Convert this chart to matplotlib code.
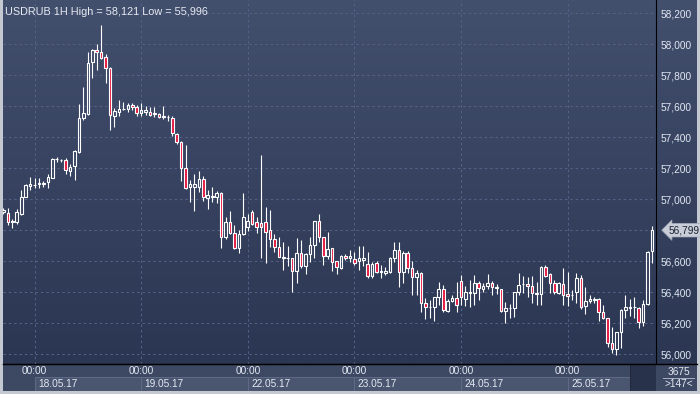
import numpy as np
import matplotlib.pyplot as plt
from matplotlib.patches import Rectangle
from matplotlib.lines import Line2D
from matplotlib.transforms import blended_transform_factory

plt.rcParams['font.family'] = ['Liberation Sans', 'DejaVu Sans']

symbol = 'USDRUB'
timeframe = '1H'
scroll_label = '3675'

# hourly candles
opens = [56.918, 56.908, 56.850, 56.849, 56.903, 57.015, 57.086, 57.090, 57.100, 57.098,
         57.107, 57.138, 57.255, 57.250, 57.252, 57.183, 57.215, 57.305, 57.520, 57.548,
         57.882, 57.961, 57.946, 57.918, 57.843, 57.535, 57.563, 57.578, 57.580, 57.606,
         57.591, 57.557, 57.563, 57.561, 57.550, 57.548, 57.531, 57.528, 57.520, 57.419,
         57.370, 57.198, 57.075, 57.080, 57.079, 57.127, 57.004, 57.013, 57.011, 57.036,
         56.753, 56.854, 56.779, 56.682, 56.772, 56.818, 56.919, 56.850, 56.843, 56.850,
         56.800, 56.740, 56.689, 56.620, 56.618, 56.618, 56.538, 56.650, 56.570, 56.643,
         56.701, 56.858, 56.753, 56.633, 56.682, 56.600, 56.557, 56.632, 56.617, 56.611,
         56.602, 56.608, 56.581, 56.505, 56.589, 56.527, 56.520, 56.531, 56.617, 56.671,
         56.527, 56.654, 56.557, 56.499, 56.520, 56.327, 56.301, 56.301, 56.366, 56.417,
         56.279, 56.339, 56.359, 56.470, 56.354, 56.395, 56.395, 56.455, 56.421, 56.440,
         56.460, 56.428, 56.417, 56.279, 56.296, 56.298, 56.402, 56.449, 56.451, 56.438,
         56.389, 56.387, 56.563, 56.516, 56.461, 56.396, 56.452, 56.388, 56.378, 56.403,
         56.489, 56.310, 56.342, 56.349, 56.355, 56.269, 56.231, 56.074, 56.031, 56.140,
         56.284, 56.300, 56.301, 56.299, 56.207, 56.321, 56.667]
highs = [56.944, 56.944, 56.871, 56.935, 57.058, 57.095, 57.140, 57.133, 57.133, 57.118,
         57.159, 57.267, 57.273, 57.258, 57.267, 57.224, 57.316, 57.611, 57.725, 57.946,
         57.965, 58.000, 58.121, 57.933, 57.854, 57.585, 57.638, 57.628, 57.617, 57.617,
         57.606, 57.617, 57.600, 57.591, 57.591, 57.557, 57.600, 57.542, 57.535, 57.423,
         57.372, 57.348, 57.122, 57.161, 57.180, 57.148, 57.058, 57.075, 57.052, 57.047,
         56.882, 56.925, 56.833, 56.800, 57.041, 56.904, 56.930, 56.882, 57.284, 56.947,
         56.930, 56.775, 56.753, 56.725, 56.697, 56.620, 56.747, 56.736, 56.650, 56.753,
         56.858, 56.904, 56.755, 56.790, 56.684, 56.602, 56.639, 56.643, 56.671, 56.660,
         56.697, 56.697, 56.660, 56.596, 56.600, 56.574, 56.559, 56.628, 56.725, 56.725,
         56.664, 56.664, 56.600, 56.542, 56.531, 56.359, 56.348, 56.370, 56.467, 56.445,
         56.352, 56.380, 56.466, 56.509, 56.438, 56.477, 56.509, 56.473, 56.455, 56.514,
         56.473, 56.449, 56.419, 56.337, 56.320, 56.402, 56.520, 56.503, 56.498, 56.503,
         56.466, 56.567, 56.574, 56.520, 56.478, 56.467, 56.553, 56.532, 56.413, 56.525,
         56.510, 56.435, 56.381, 56.370, 56.360, 56.317, 56.233, 56.173, 56.143, 56.289,
         56.381, 56.353, 56.366, 56.302, 56.349, 56.667, 56.826]
lows = [56.905, 56.832, 56.811, 56.837, 56.897, 57.011, 57.058, 57.069, 57.069, 57.080,
        57.073, 57.133, 57.237, 57.241, 57.159, 57.150, 57.123, 57.295, 57.510, 57.545,
        57.778, 57.832, 57.901, 57.746, 57.445, 57.466, 57.535, 57.574, 57.563, 57.574,
        57.535, 57.535, 57.542, 57.535, 57.531, 57.522, 57.514, 57.505, 57.406, 57.355,
        57.118, 57.062, 56.983, 56.925, 57.047, 56.989, 56.933, 56.983, 56.972, 56.682,
        56.740, 56.775, 56.680, 56.650, 56.768, 56.796, 56.833, 56.779, 56.618, 56.590,
        56.693, 56.661, 56.626, 56.542, 56.568, 56.403, 56.461, 56.553, 56.516, 56.596,
        56.618, 56.725, 56.575, 56.611, 56.538, 56.516, 56.546, 56.606, 56.596, 56.574,
        56.542, 56.568, 56.488, 56.488, 56.520, 56.488, 56.510, 56.525, 56.596, 56.434,
        56.460, 56.520, 56.381, 56.381, 56.273, 56.224, 56.230, 56.215, 56.316, 56.273,
        56.273, 56.335, 56.273, 56.316, 56.309, 56.305, 56.316, 56.348, 56.397, 56.417,
        56.380, 56.387, 56.273, 56.202, 56.234, 56.240, 56.380, 56.395, 56.369, 56.331,
        56.316, 56.316, 56.494, 56.395, 56.388, 56.388, 56.317, 56.310, 56.349, 56.332,
        56.289, 56.259, 56.327, 56.327, 56.216, 56.224, 56.048, 56.009, 55.996, 56.037,
        56.231, 56.246, 56.231, 56.166, 56.181, 56.318, 56.585]
closes = [56.930, 56.854, 56.858, 56.914, 57.011, 57.088, 57.094, 57.092, 57.101, 57.102,
          57.144, 57.258, 57.258, 57.252, 57.187, 57.209, 57.310, 57.520, 57.553, 57.875,
          57.961, 57.946, 57.912, 57.847, 57.542, 57.570, 57.580, 57.580, 57.606, 57.591,
          57.557, 57.574, 57.574, 57.544, 57.553, 57.531, 57.533, 57.527, 57.423, 57.365,
          57.198, 57.073, 57.094, 57.094, 57.127, 57.011, 57.026, 57.017, 57.036, 56.757,
          56.854, 56.779, 56.682, 56.775, 56.882, 56.858, 56.837, 56.818, 56.818, 56.790,
          56.740, 56.689, 56.628, 56.623, 56.621, 56.538, 56.650, 56.570, 56.643, 56.701,
          56.858, 56.753, 56.635, 56.680, 56.596, 56.559, 56.632, 56.617, 56.632, 56.589,
          56.617, 56.617, 56.505, 56.581, 56.527, 56.535, 56.535, 56.621, 56.671, 56.527,
          56.654, 56.553, 56.499, 56.520, 56.327, 56.301, 56.305, 56.366, 56.417, 56.284,
          56.341, 56.359, 56.316, 56.365, 56.397, 56.397, 56.455, 56.428, 56.440, 56.460,
          56.434, 56.432, 56.279, 56.294, 56.299, 56.402, 56.445, 56.453, 56.438, 56.395,
          56.393, 56.563, 56.505, 56.455, 56.398, 56.456, 56.381, 56.375, 56.381, 56.489,
          56.302, 56.342, 56.353, 56.353, 56.271, 56.231, 56.074, 56.031, 56.140, 56.284,
          56.302, 56.302, 56.303, 56.207, 56.321, 56.661, 56.799]

# candle index of each 00:00 and the date shown after it
day_starts = [7, 31, 55, 79, 103, 127]
day_labels = ['18.05.17', '19.05.17', '22.05.17', '23.05.17', '24.05.17', '25.05.17']
price_ticks = [56.0, 56.2, 56.4, 56.6, 56.8, 57.0, 57.2, 57.4, 57.6, 57.8, 58.0, 58.2]


def fmt(v):
    return f"{v:.3f}".replace('.', ',')


W, H = 700, 394
fig = plt.figure(figsize=(W / 100, H / 100), dpi=100)
fig.patch.set_facecolor('#c3c8d1')


def px_axes(x0, y0, x1, y1):
    # pixel box measured from the top-left corner
    return fig.add_axes([x0 / W, 1 - y1 / H, (x1 - x0) / W, (y1 - y0) / H])


# gradient background behind plot and price scale
bg = px_axes(3, 0, 697, 364)
top = np.array([0x42, 0x4f, 0x6d]) / 255
bottom = np.array([0x2b, 0x36, 0x52]) / 255
t = np.linspace(0, 1, 256)[:, None, None]
bg.imshow(top + (bottom - top) * t, aspect='auto', extent=[0, 1, 0, 1])
bg.axis('off')

ax = px_axes(3, 0, 656, 364)
ax.set_facecolor('none')

o = np.array(opens)
h = np.array(highs)
l = np.array(lows)
c = np.array(closes)
x = np.arange(len(o))
body_lo = np.minimum(o, c)
body_hi = np.maximum(o, c)
falling = c < o

ax.vlines(x, body_hi, h, color='white', lw=0.8, zorder=3)
ax.vlines(x, l, body_lo, color='white', lw=0.8, zorder=3)
faces = ['#e5173f' if f else 'none' for f in falling]
ax.bar(x, np.maximum(body_hi - body_lo, 0.001), bottom=body_lo, width=0.58,
       color=faces, edgecolor='white', linewidth=0.8, zorder=4)

ax.set_xlim(-0.1, 146.9)
ax.set_ylim(55.9355, 58.284)
ax.set_xticks(day_starts)
ax.set_yticks(price_ticks)
ax.grid(True, color='#55628a', linestyle=(0, (2.5, 3)), lw=0.7, zorder=1)
ax.tick_params(axis='x', length=0, labelbottom=False)
ax.yaxis.tick_right()
ax.tick_params(axis='y', length=0, pad=3, labelsize=7.3, labelcolor='#e2e8f2')
ax.set_yticklabels(['' if abs(p - 56.8) < 1e-6 else fmt(p) for p in price_ticks])
for s in ['top', 'left']:
    ax.spines[s].set_visible(False)
ax.spines['right'].set_color('black')
ax.spines['bottom'].set_color('black')
fig.add_artist(Line2D([3 / W, 697 / W], [1 - 364 / H] * 2, color='black', lw=1))

# last price marker
tr = blended_transform_factory(ax.transAxes, ax.transData)
ax.text(1.02, c[-1], fmt(c[-1]), transform=tr, va='center', ha='left', fontsize=7.3,
        color='#1a2131', clip_on=False, zorder=6,
        bbox=dict(boxstyle='larrow,pad=0.18', fc='#c8cdd7', ec='#a0a8b8', lw=0.5))

fig.text(5 / W, 1 - 12 / H,
         f"{symbol} {timeframe} High = {fmt(h.max())} Low = {fmt(l.min())}",
         va='center', ha='left', fontsize=7.8, color='#e6eaf1')

# time strip
strip = px_axes(3, 364, 656, 391)
strip.set_xlim(ax.get_xlim())
strip.set_ylim(0, 1)
strip.axis('off')
strip.add_patch(Rectangle((0, 0), 1, 1, transform=strip.transAxes, fc='#3d4862', ec='none'))
ends = day_starts[1:] + [141]
for s, e, lab in zip(day_starts, ends, day_labels):
    strip.add_patch(Rectangle((s, 0), e - s, 0.52, fc='#4a5670', ec='#5f6b86', lw=0.7))
    strip.text(s + 0.8, 0.27, lab, va='center', ha='left', fontsize=7.3, color='#e2e8f2')
    strip.text(s, 0.74, '00:00', va='center', ha='center', fontsize=7.3, color='#e2e8f2')
strip.add_patch(Rectangle((141, 0), 6.5, 1, fc='#29324b', ec='#1f273b', lw=0.7))

side = px_axes(656, 364, 697, 391)
side.set_xlim(0, 1)
side.set_ylim(0, 1)
side.axis('off')
side.add_patch(Rectangle((0, 0), 1, 1, fc='#3d4862', ec='none'))
side.text(0.55, 0.7, scroll_label, ha='center', va='center', fontsize=7.3, color='#e2e8f2')
side.plot([0.18, 0.92], [0.47, 0.47], color='#a9b2c4', lw=0.7)
side.text(0.55, 0.25, f">{len(o)}<", ha='center', va='center', fontsize=7.3, color='#e2e8f2')

fig.savefig('out.png', dpi=100, facecolor=fig.get_facecolor())
